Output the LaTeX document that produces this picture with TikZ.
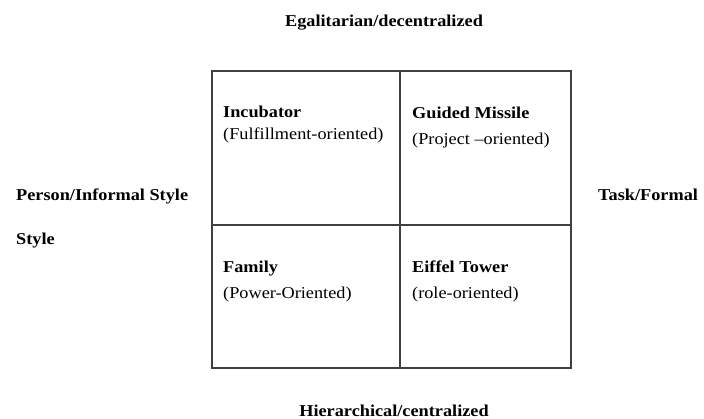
\documentclass[tikz,border=0pt]{standalone}
\usepackage{fontspec}
\setmainfont[FakeStretch=1.1]{Liberation Serif}
\begin{document}
\begin{tikzpicture}[x=1pt,y=-1pt,
    every node/.style={font=\fontsize{16.6}{19}\selectfont,inner sep=0},
    cell/.style={draw=black!75,line width=1.2pt},
    title/.style={anchor=base west,font=\fontsize{16.6}{19}\selectfont\bfseries},
    sub/.style={anchor=base west}]
    \useasboundingbox (0,0) rectangle (704,419);

    \node at (306,148) [minimum width=188pt,minimum height=154pt,cell] (incubator) {};
    \node at (485.5,148) [minimum width=171pt,minimum height=154pt,cell] (missile) {};
    \node at (306,296.5) [minimum width=188pt,minimum height=143pt,cell] (family) {};
    \node at (485.5,296.5) [minimum width=171pt,minimum height=143pt,cell] (eiffel) {};

    \node at (223,118) [title] (incubator_t) {Incubator};
    \node at (223,140) [sub] (incubator_s) {(Fulfillment-oriented)};
    \node at (412,119) [title] (missile_t) {Guided Missile};
    \node at (412,145) [sub] (missile_s) {(Project --oriented)};
    \node at (223,273) [title] (family_t) {Family};
    \node at (223,299) [sub] (family_s) {(Power-Oriented)};
    \node at (412,273) [title] (eiffel_t) {Eiffel Tower};
    \node at (412,299) [sub] (eiffel_s) {(role-oriented)};

    \node at (384,27) [anchor=base,font=\fontsize{16.6}{19}\selectfont\bfseries] (top) {Egalitarian/decentralized};
    \node at (394,416) [anchor=base,font=\fontsize{16.6}{19}\selectfont\bfseries] (bottom) {Hierarchical/centralized};
    \node at (16,201) [title] (person) {Person/Informal Style};
    \node at (16,245) [title] (style) {Style};
    \node at (598,201) [title] (task) {Task/Formal};
\end{tikzpicture}
\end{document}
